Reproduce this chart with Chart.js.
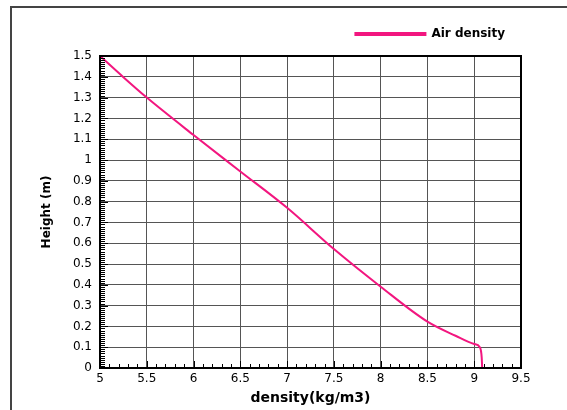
<!DOCTYPE html>
<html>
<head>
<meta charset="utf-8">
<script src="https://cdn.jsdelivr.net/npm/chart.js@4"></script>
<style>
  html, body { margin: 0; background: #fff; overflow: hidden; }
  #wrap { position: relative; width: 567px; height: 410px; overflow: hidden; }
  #densityChart { display: block; }
  .edge { position: absolute; background: #444; pointer-events: none; }
  #edgeTop { left: 10px; top: 6px; width: 557px; height: 2px; }
  #edgeLeft { left: 10px; top: 6px; width: 2px; height: 404px; }
</style>
</head>
<body>
<div id="wrap">
  <canvas id="densityChart" width="567" height="410"></canvas>
  <div class="edge" id="edgeTop"></div>
  <div class="edge" id="edgeLeft"></div>
</div>
<script>
// density (kg/m3) vs height (m)
const density = [5, 5.25, 5.5, 6, 6.5, 7, 7.5, 8, 8.5, 8.8, 9, 9.06, 9.08, 9.085];
const height = [1.5, 1.398, 1.3, 1.12, 0.945, 0.77, 0.572, 0.391, 0.223, 0.155, 0.115, 0.1, 0.05, 0];
const xTicks = [5, 5.5, 6, 6.5, 7, 7.5, 8, 8.5, 9, 9.5];
const yTicks = [0, 0.1, 0.2, 0.3, 0.4, 0.5, 0.6, 0.7, 0.8, 0.9, 1, 1.1, 1.2, 1.3, 1.4, 1.5];

const lineColor = '#f2167f';

// little ticks drawn inside the plot, like the original
const innerTicks = {
    id: 'innerTicks',
    afterDatasetsDraw(chart) {
        const ctx = chart.ctx;
        const xs = chart.scales.x, ys = chart.scales.y;
        const area = chart.chartArea;
        ctx.save();
        ctx.strokeStyle = '#000';
        ctx.lineWidth = 1;
        ctx.beginPath();
        for (let i = 50; i <= 95; i++) {
            const px = Math.round(xs.getPixelForValue(i / 10)) + 0.5;
            const len = (i % 5 === 0) ? 7 : 4;
            ctx.moveTo(px, area.bottom);
            ctx.lineTo(px, area.bottom - len);
        }
        for (let i = 0; i <= 150; i++) {
            const py = Math.round(ys.getPixelForValue(i / 100)) + 0.5;
            const len = (i % 10 === 0) ? 8 : 5;
            ctx.moveTo(area.left, py);
            ctx.lineTo(area.left + len, py);
        }
        ctx.stroke();
        // plot border
        ctx.lineWidth = 2;
        ctx.strokeRect(area.left, area.top, area.right - area.left, area.bottom - area.top);
        ctx.restore();
    }
};

// a bit more room under the legend
const legendGap = {
    id: 'legendGap',
    beforeInit(chart) {
        const fit = chart.legend.fit;
        chart.legend.fit = function () {
            fit.bind(chart.legend)();
            this.height += 6;
        };
    }
};

const config = {
    type: 'scatter',
    data: {
        datasets: [{
            label: 'Air density',
            data: density.map((d, i) => ({x: d, y: height[i]})),
            showLine: true,
            borderColor: lineColor,
            backgroundColor: lineColor,
            borderWidth: 2,
            pointRadius: 0,
            cubicInterpolationMode: 'monotone'
        }]
    },
    plugins: [innerTicks, legendGap],
    options: {
        responsive: false,
        animation: false,
        layout: {
            padding: {left: 40, right: 46, top: 12, bottom: 0}
        },
        scales: {
            x: {
                type: 'linear',
                min: 5,
                max: 9.5,
                afterBuildTicks: (s) => { s.ticks = xTicks.map(v => ({value: v})); },
                afterFit: (s) => { s.height = 42; },
                ticks: {
                    color: '#000',
                    padding: 4,
                    font: {family: 'DejaVu Sans', size: 12},
                    callback: (v) => String(v)
                },
                grid: {color: '#555', lineWidth: 1, drawTicks: false},
                border: {display: false},
                title: {
                    display: true,
                    text: 'density(kg/m3)',
                    color: '#000',
                    font: {family: 'DejaVu Sans', size: 14, weight: 'bold'},
                    padding: {top: 0, bottom: 3}
                }
            },
            y: {
                type: 'linear',
                min: 0,
                max: 1.5,
                afterBuildTicks: (s) => { s.ticks = yTicks.map(v => ({value: v})); },
                afterFit: (s) => { s.width = 60; },
                ticks: {
                    color: '#000',
                    padding: 8,
                    font: {family: 'DejaVu Sans', size: 12},
                    callback: (v) => String(v)
                },
                grid: {color: '#555', lineWidth: 1, drawTicks: false},
                border: {display: false},
                title: {
                    display: true,
                    text: 'Height (m)',
                    color: '#000',
                    font: {family: 'DejaVu Sans', size: 12, weight: 'bold'},
                    padding: {top: 0, bottom: 0}
                }
            }
        },
        plugins: {
            legend: {
                position: 'top',
                align: 'end',
                labels: {
                    color: '#000',
                    boxWidth: 70,
                    boxHeight: 2,
                    padding: 16,
                    font: {family: 'DejaVu Sans', size: 12, weight: 'bold'}
                }
            },
            tooltip: {enabled: false}
        }
    }
};

const densityChart = new Chart(document.getElementById('densityChart'), config);
</script>
</body>
</html>
